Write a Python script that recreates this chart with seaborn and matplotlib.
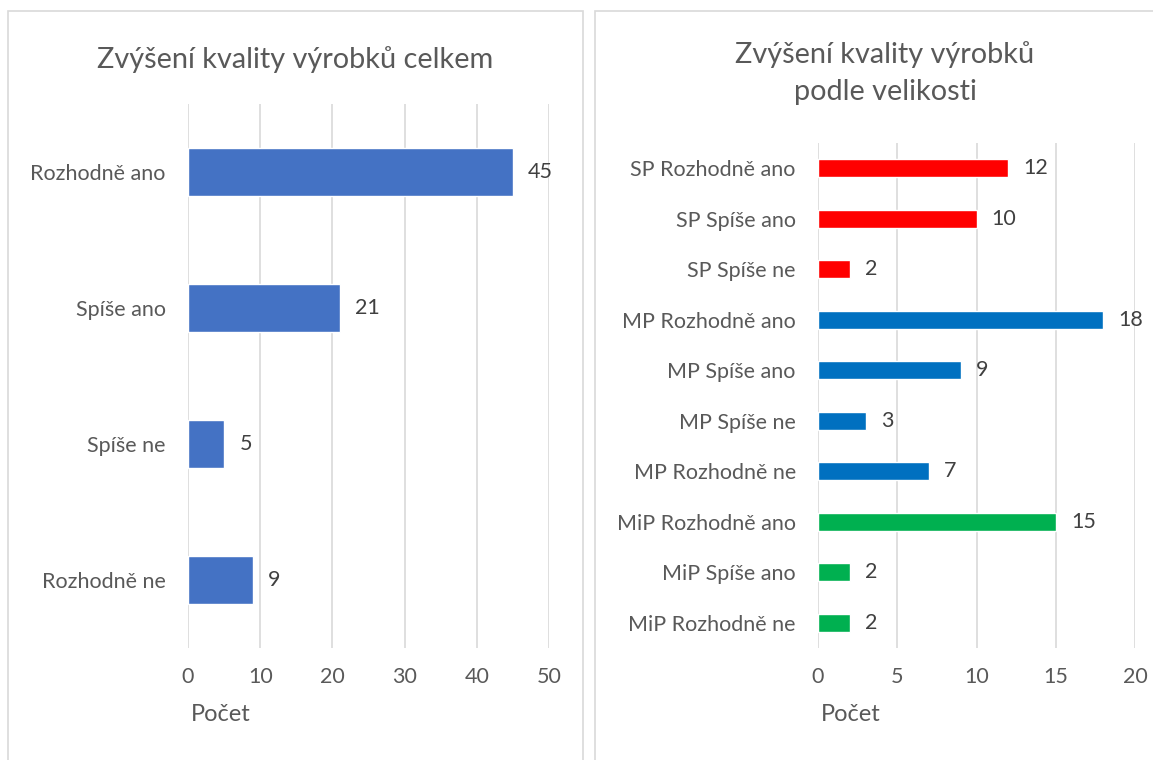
import matplotlib
matplotlib.use("Agg")
import matplotlib.pyplot as plt
import seaborn as sns
import pandas as pd
from matplotlib.patches import Rectangle

sns.set_theme(style="white")
plt.rcParams['font.family'] = ['Lato', 'DejaVu Sans']

# left chart - overall
cat_total = ['Rozhodně ano', 'Spíše ano', 'Spíše ne', 'Rozhodně ne']
val_total = [45, 21, 5, 9]

# right chart - by company size
cat_size = ['SP Rozhodně ano', 'SP Spíše ano', 'SP Spíše ne',
            'MP Rozhodně ano', 'MP Spíše ano', 'MP Spíše ne', 'MP Rozhodně ne',
            'MiP Rozhodně ano', 'MiP Spíše ano', 'MiP Rozhodně ne']
val_size = [12, 10, 2, 18, 9, 3, 7, 15, 2, 2]
grp_size = ['SP', 'SP', 'SP', 'MP', 'MP', 'MP', 'MP', 'MiP', 'MiP', 'MiP']
grp_colors = {'SP': '#FF0000', 'MP': '#0070C0', 'MiP': '#00B050'}

df_total = pd.DataFrame({'kat': cat_total, 'pocet': val_total})
df_size = pd.DataFrame({'kat': cat_size, 'pocet': val_size, 'grp': grp_size})

txt = '#595959'
lbl = '#404040'
grid = '#D9D9D9'

fig = plt.figure(figsize=(11.53, 7.6), dpi=100)

# panel frames
W, H = 1153, 760
for x0, x1 in [(8, 583), (595, 1160)]:
	fig.patches.append(Rectangle((x0 / W, 0 - 0.01), (x1 - x0) / W, (760 - 11) / H + 0.01,
		transform=fig.transFigure, fill=False, edgecolor=grid, lw=1.2))

ax1 = fig.add_axes([188 / W, 1 - 648 / H, (549 - 188) / W, (648 - 104) / H])
ax2 = fig.add_axes([818 / W, 1 - 648 / H, (1135 - 818) / W, (648 - 143) / H])

sns.barplot(data=df_total, x='pocet', y='kat', orient='h', color='#4472C4',
	width=0.35, saturation=1, ax=ax1)
sns.barplot(data=df_size, x='pocet', y='kat', hue='grp', palette=grp_colors,
	orient='h', dodge=False, width=0.35, saturation=1, legend=False, ax=ax2)

for ax, xmax, step in [(ax1, 50, 10), (ax2, 20, 5)]:
	ax.set_xlim(0, xmax)
	ax.set_xticks(range(0, xmax + 1, step))
	ax.grid(axis='x', color=grid, lw=1.2)
	ax.grid(axis='y', visible=False)
	ax.set_axisbelow(True)
	for s in ax.spines.values():
		s.set_visible(False)
	ax.tick_params(axis='both', length=0, labelsize=15.5, labelcolor=txt)
	ax.tick_params(axis='x', pad=14)
	ax.tick_params(axis='y', pad=16)
	ax.set_ylabel('')
	ax.set_xlabel('Počet', fontsize=17, color=txt, loc='left', labelpad=12)
	ax.xaxis.label.set_x(0.008)
	for c in ax.containers:
		ax.bar_label(c, padding=11, fontsize=15.5, color=lbl)

fig.text(295 / W, 1 - 60 / H, 'Zvýšení kvality výrobků celkem', ha='center', va='center',
	fontsize=20.8, color=txt)
fig.text(885 / W, 1 - 73 / H, 'Zvýšení kvality výrobků\npodle velikosti', ha='center',
	va='center', fontsize=20.8, color=txt, linespacing=1.55)

fig.savefig('out.png', dpi=100)
